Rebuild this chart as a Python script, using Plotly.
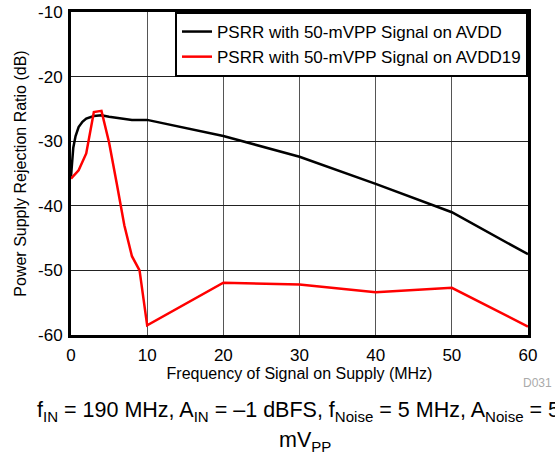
import plotly.graph_objects as go

# frequency of signal on supply (MHz) and PSRR (dB)
freq_avdd = [0, 0.3, 0.6, 1, 1.5, 2, 3, 4, 5, 6, 7, 8, 10, 20, 30, 40, 50, 60]
psrr_avdd = [-35.5, -31.0, -29.2, -27.8, -27.0, -26.5, -26.1, -26.0, -26.2,
             -26.4, -26.6, -26.7, -26.7, -29.2, -32.4, -36.6, -41.0, -47.5]

freq_avdd19 = [0, 1, 2, 3, 4, 5, 6, 7, 8, 9, 10, 20, 30, 40, 50, 60]
psrr_avdd19 = [-35.8, -34.5, -31.9, -25.5, -25.3, -30.2, -36.5, -43.0, -47.8,
               -50.0, -58.5, -51.9, -52.2, -53.4, -52.7, -58.7]

x_ticks = [0, 10, 20, 30, 40, 50, 60]
y_ticks = [-60, -50, -40, -30, -20, -10]

FONT = "Liberation Sans, Arial, sans-serif"

fig = go.Figure()
fig.add_trace(
    go.Scatter(
        x=freq_avdd,
        y=psrr_avdd,
        mode="lines",
        line=dict(color="black", width=2.5),
        name="PSRR with 50-mVPP Signal on AVDD",
    )
)
fig.add_trace(
    go.Scatter(
        x=freq_avdd19,
        y=psrr_avdd19,
        mode="lines",
        line=dict(color="#ff0000", width=2.5),
        name="PSRR with 50-mVPP Signal on AVDD19",
    )
)

fig.update_layout(
    width=555,
    height=459,
    margin=dict(l=71, r=27, t=12, b=124, autoexpand=False),
    paper_bgcolor="white",
    plot_bgcolor="white",
    font=dict(family=FONT, size=17, color="black"),
    showlegend=True,
    legend=dict(
        x=1, y=1, xanchor="right", yanchor="top",
        bgcolor="white", bordercolor="black", borderwidth=2,
        font=dict(size=17), tracegroupgap=0,
    ),
)
fig.update_xaxes(
    range=[0, 60],
    tickvals=x_ticks,
    ticktext=[str(v) for v in x_ticks],
    showgrid=True, gridcolor="#555555", gridwidth=1,
    showline=True, linecolor="black", linewidth=3, mirror=True,
    zeroline=False, ticks="", automargin=True, ticklabelstandoff=3,
    ticklabeloverflow="allow",
    title=dict(text="Frequency of Signal on Supply (MHz)", standoff=1, font=dict(size=16)),
)
fig.update_yaxes(
    range=[-60, -10],
    tickvals=y_ticks,
    ticktext=[str(v) for v in y_ticks],
    showgrid=True, gridcolor="#222222", gridwidth=1,
    showline=True, linecolor="black", linewidth=3, mirror=True,
    zeroline=False, ticks="", automargin=True, ticklabelstandoff=2,
    ticklabeloverflow="allow",
    title=dict(text="Power Supply Rejection Ratio (dB)", standoff=8, font=dict(size=16)),
)

fig.add_annotation(
    text="D031", xref="paper", yref="paper", x=1.057, y=-0.149,
    xanchor="right", yanchor="middle", showarrow=False,
    font=dict(size=12, color="#aaaaaa"),
)
fig.add_annotation(
    text="f<sub>IN</sub> = 190 MHz, A<sub>IN</sub> = \u20131 dBFS, f<sub>Noise</sub> = 5 MHz, "
         "A<sub>Noise</sub> = 50",
    xref="paper", yref="paper", x=0.512, y=-0.189,
    xanchor="center", yanchor="top", showarrow=False,
    font=dict(size=21.5),
)
fig.add_annotation(
    text="mV<sub>PP</sub>",
    xref="paper", yref="paper", x=0.512, y=-0.282,
    xanchor="center", yanchor="top", showarrow=False,
    font=dict(size=21.5),
)

fig.write_html(
    "out.html",
    config={"displayModeBar": False},
    post_script="document.body.style.margin = '0';",
)
